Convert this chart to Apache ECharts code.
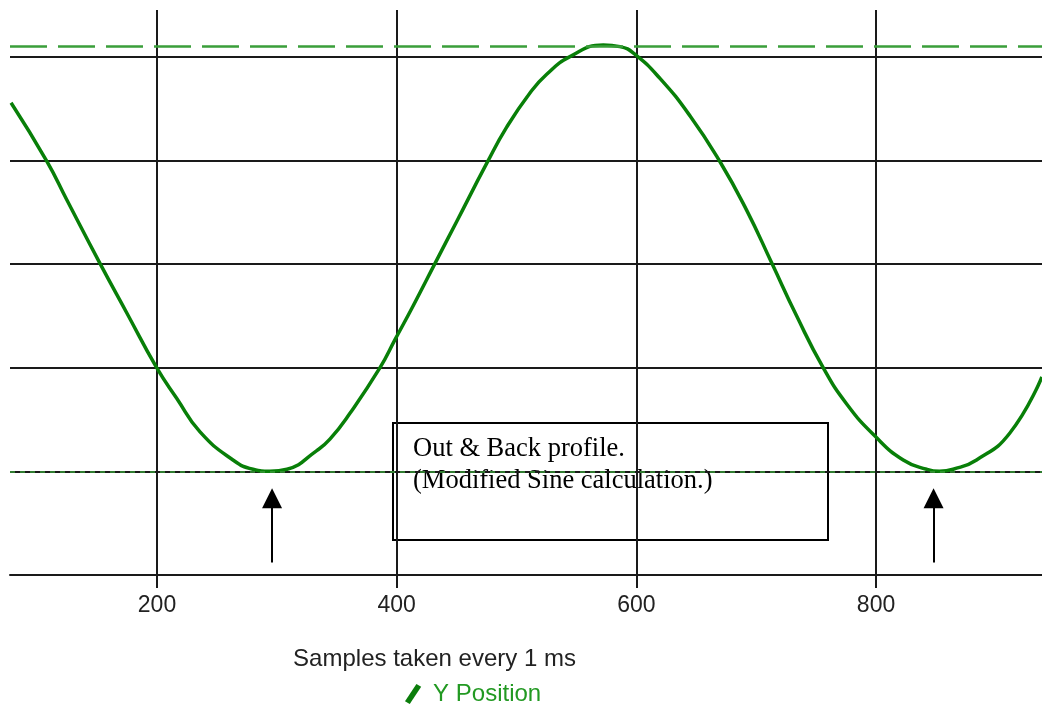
<!DOCTYPE html>
<html>
<head>
<meta charset="utf-8">
<style>html,body{margin:0;padding:0;background:#fff;}#chart{width:1042px;height:705px;}</style>
<script src="https://cdn.jsdelivr.net/npm/echarts@6/dist/echarts.min.js"></script>
</head>
<body>
<div id="chart"></div>
<script>
// ---- data ----
const xTicks = [200, 400, 600, 800];
const samples = [78.2, 108.0, 124.7, 152.4, 174.7, 199.7, 216.4, 235.9, 263.7, 280.1, 294.3, 308.5, 333.3, 344.3, 361.0, 386.1, 398.6, 413.9, 432.0, 450.1, 475.1, 491.8, 511.2, 525.2, 544.6, 572.4, 586.3, 599.1, 619.7, 644.7, 669.8, 692.0, 712.9, 733.7, 755.9, 775.5, 799.1, 822.7, 842.2, 853.0, 864.4, 883.9, 911.7, 938.4];
const yPosition = [4.556, 3.993, 3.62, 3.006, 2.53, 2.0, 1.705, 1.38, 1.107, 1.02, 1.0, 1.02, 1.2, 1.31, 1.56, 2.0, 2.27, 2.6, 3.006, 3.41, 3.97, 4.32, 4.65, 4.83, 5.0, 5.113, 5.097, 5.02, 4.79, 4.43, 3.986, 3.52, 3.012, 2.5, 2.0, 1.65, 1.34, 1.11, 1.02, 1.0, 1.02, 1.11, 1.37, 1.911];
const upperLimit = 5.1;
const lowerLimit = 1.0;
const arrowSamples = [296, 848];
const arrowFrom = 0.12;
const arrowTo = 0.74;
const xName = 'Samples taken every 1 ms';
const seriesName = 'Y Position';
const noteLines = ['Out & Back profile.', '(Modified Sine calculation.)'];

const chart = echarts.init(document.getElementById('chart'), null, {renderer: 'canvas'});
const curve = samples.map((s, i) => [s, yPosition[i]]);

const option = {
  animation: false,
  backgroundColor: '#ffffff',
  grid: {left: 10, right: 0, top: 10, bottom: 130, containLabel: false, outerBoundsMode: 'none'},
  legend: {
    data: [seriesName],
    left: 400, top: 677,
    itemWidth: 22, itemHeight: 20,
    icon: 'path://M2,20 L14,2 L19,5 L7,23 Z',
    itemStyle: {color: '#0b7d0b'},
    textStyle: {color: '#229922', fontFamily: 'Liberation Sans', fontSize: 24, padding: [0, 0, 0, 4]}
  },
  xAxis: {
    type: 'value',
    min: 77.33, max: 938.5,
    name: xName,
    nameLocation: 'middle',
    nameGap: 72,
    nameTextStyle: {color: '#222', fontFamily: 'Liberation Sans', fontSize: 24, padding: [0, 183, 0, 0]},
    axisLine: {show: true, onZero: false, lineStyle: {color: '#1a1a1a', width: 2}},
    axisTick: {show: true, customValues: xTicks, length: 13, lineStyle: {color: '#1a1a1a', width: 2}},
    axisLabel: {customValues: xTicks, color: '#222', fontFamily: 'Liberation Sans', fontSize: 23, margin: 19},
    splitLine: {show: true, lineStyle: {color: '#1a1a1a', width: 2}}
  },
  yAxis: {
    type: 'value',
    min: 0, max: 5.45, interval: 1,
    axisLine: {show: false},
    axisTick: {show: false},
    axisLabel: {show: false},
    splitLine: {show: true, showMinLine: false, showMaxLine: false, lineStyle: {color: '#1a1a1a', width: 2}}
  },
  series: [
    {
      name: seriesName,
      type: 'line',
      data: curve,
      smooth: 0.5,
      showSymbol: false,
      lineStyle: {color: '#087f08', width: 3.5},
      itemStyle: {color: '#087f08'},
      z: 3,
      markLine: {
        silent: true,
        symbol: ['none', 'none'],
        label: {show: false},
        data: [
          {yAxis: upperLimit, lineStyle: {color: '#3a9e3a', width: 2.5, type: [37, 11]}},
          {yAxis: lowerLimit, lineStyle: {color: '#3a9e3a', width: 1.5, type: [5, 5]}}
        ]
      }
    },
    {
      name: 'arrows',
      type: 'line',
      data: [],
      markLine: {
        silent: true,
        symbol: ['none', 'triangle'],
        symbolSize: [20, 20],
        label: {show: false},
        lineStyle: {color: '#000', width: 2, type: 'solid'},
        itemStyle: {color: '#000'},
        data: arrowSamples.map(s => [{coord: [s, arrowFrom]}, {coord: [s, arrowTo]}])
      }
    }
  ],
  graphic: [
    {
      type: 'group', left: 392, top: 422, z: 100,
      children: [
        {type: 'rect', shape: {x: 0, y: 0, width: 435, height: 117}, style: {fill: '#fff', stroke: '#000', lineWidth: 2}},
        {type: 'text', x: 20, y: 10, style: {text: noteLines.join('\n'), fill: '#000', font: '26.5px "Liberation Serif"', lineHeight: 32}}
      ]
    }
  ]
};
chart.setOption(option);
</script>
</body>
</html>
